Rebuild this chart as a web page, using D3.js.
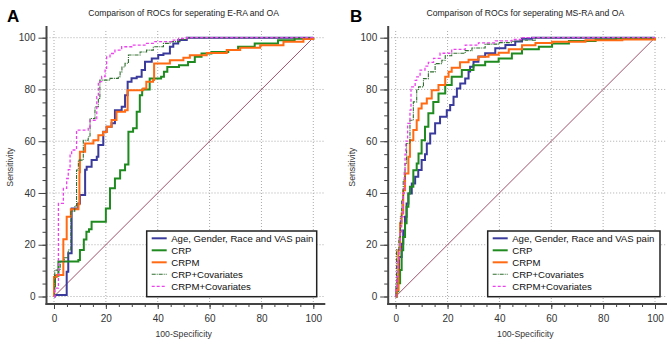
<!DOCTYPE html>
<html>
<head>
<meta charset="utf-8">
<script src="https://cdn.jsdelivr.net/npm/d3@7"></script>
<style>
  body { margin: 0; background: #fff; }
  svg { display: block; font-family: "Liberation Sans", Arial, sans-serif; }
  .tick text { fill: #333; }
</style>
</head>
<body>
<div id="chart"></div>
<script>
// tick values
var majorTicks = [0, 20, 40, 60, 80, 100],
  minorTicks = d3.range(0, 101, 5);

var seriesNames = ["Age, Gender, Race and VAS pain", "CRP", "CRPM", "CRP+Covariates", "CRPM+Covariates"];
var seriesColors = ["#3a3a9c", "#1f8a1f", "#ff6a13", "#2f6e2f", "#ee40ee"];

// panel A: E-RA vs OA  [100-specificity, sensitivity]
var eraAge = [[0, 0], [0.4, 0.6], [4.9, 9.6], [5.5, 16.7], [6.8, 34], [9.3, 35.9], [10, 39.2], [12, 49], [12.6, 50.1],
  [14.5, 52.7], [16.5, 54], [17.1, 58.5], [19, 63.7], [20.3, 65.6], [22.2, 66.9], [23.5, 72], [26.1, 73.3], [27.4, 77.8],
  [28.4, 83], [29.9, 84.3], [31.9, 84.9], [33.8, 87.5], [35.1, 90.7], [37.7, 92], [40.2, 93.3], [42.2, 93.9],
  [44.7, 96.5], [46, 97.8], [47.9, 99.1], [51.2, 100], [100, 100]];
var eraCrp = [[0, 0], [0, 4], [0.4, 8], [1.7, 13.5], [9.4, 14.1], [10, 18], [11.5, 22], [12.5, 25], [13.5, 26],
  [14.5, 28.9], [20, 29.3], [20, 34], [21.6, 41.8], [23.5, 45.6], [25.5, 48.8], [27.4, 51], [28.7, 63.7], [30.5, 65],
  [31.9, 71.4], [33.1, 77.8], [34, 80], [36.9, 84.2], [41.3, 84.9], [42.4, 86.8], [43.7, 88.7], [48.2, 89.4],
  [51.7, 90.6], [54.3, 92.6], [56.9, 93.9], [60.7, 94.5], [67.2, 95.2], [71, 96.5], [77.4, 97.8], [86.4, 99],
  [92.8, 99.6], [100, 100]];
var eraCrpm = [[0, 0], [0, 7.5], [1, 8.3], [3.6, 22.1], [4.9, 30.8], [6.5, 33.7], [9.4, 35.6], [9.8, 48], [10, 55.9],
  [12, 59.1], [15.2, 60.4], [17.1, 62.3], [19, 63.6], [20.3, 65.6], [22.2, 68.2], [24.1, 71.4], [27.4, 72],
  [28.4, 79.7], [34.4, 80.4], [35.6, 83], [38.2, 83.7], [38.6, 90], [44.7, 91.3], [49.9, 92.3], [52.4, 93.2],
  [58.9, 94.1], [66.6, 95.2], [71.8, 96.1], [79.5, 97.1], [88.5, 98.4], [96.2, 99.5], [100, 100]];
var eraCrpCov = [[0, 0], [0.3, 10.2], [2.4, 13.4], [4, 15], [5.5, 18], [6.5, 33], [8, 35], [8.7, 48.9], [9.4, 52.7],
  [11.3, 60.4], [13.2, 61.7], [13.9, 68.8], [15.8, 73.3], [17.1, 76.5], [17.7, 83.6], [21.6, 84.3], [24.8, 84.9],
  [25.5, 86.8], [26.2, 88.7], [27.4, 90.1], [28.7, 93.3], [33.2, 94.5], [35.7, 95.2], [38.3, 96.5], [42.2, 97.8],
  [44.7, 98.5], [48.6, 99.3], [51.2, 100], [100, 100]];
var eraCrpmCov = [[0, 0], [0.4, 3.2], [1.7, 36], [3.6, 41.8], [4.9, 45.6], [5.5, 49], [6.2, 54.6], [6.8, 56.6],
  [8.7, 64.3], [13.2, 65.6], [13.9, 68.1], [16.5, 77.2], [17.1, 83], [18.4, 85], [19.7, 88.2], [20.3, 92.6],
  [21.6, 93.9], [23.5, 95.2], [26.1, 96.5], [30, 97.1], [35.1, 97.8], [38.9, 98.5], [45.4, 99.1], [48, 99.7],
  [51.2, 100], [100, 100]];

// panel B: MS-RA vs OA
var msraAge = [[0, 0], [0.4, 3], [0.8, 7.6], [1.3, 15.3], [2.3, 20.4], [2.9, 25.5], [3.6, 30.8], [4.2, 35.9],
  [4.9, 39.8], [6.2, 43.7], [7.5, 46.3], [8.7, 48.9], [10, 52.7], [11.3, 55], [12, 59.1], [13.3, 63], [15.2, 66.9],
  [17.1, 69.5], [19.7, 72], [21, 74], [22.3, 77.2], [23.6, 80.4], [24.9, 82.3], [26.8, 84.2], [28.1, 86.9],
  [28.7, 88.8], [30, 90.7], [31.9, 92.7], [34.5, 94], [38.4, 95.9], [42.3, 97.2], [46.1, 98.5], [48.7, 99.6],
  [52.6, 100], [100, 100]];
var msraCrp = [[0, 0], [0.4, 2], [1, 5.1], [1.7, 10.2], [2.3, 17.9], [2.9, 23], [3.6, 28.3], [4.2, 34.7], [4.9, 39.8],
  [5.5, 42.4], [6.8, 48.8], [8.1, 51.4], [8.8, 55.3], [10, 60.4], [11.3, 65.6], [12.6, 70.8], [14.5, 75.2],
  [16.5, 78.4], [19.1, 81.7], [21.6, 84.9], [25.5, 87.5], [30, 89.4], [34.5, 90.7], [39.7, 92], [44.8, 93.9],
  [48.7, 95.5], [55.2, 96.5], [60.3, 97.8], [66.8, 98.7], [77.1, 99.3], [85, 99.7], [100, 100]];
var msraCrpm = [[0, 0], [0.4, 2.5], [1, 7.6], [1, 17.9], [1.7, 28.3], [2.3, 32.1], [2.9, 41.1], [3.6, 47.5],
  [4.9, 54], [5.5, 60.4], [6.8, 64.3], [8.1, 68.1], [8.8, 72.6], [10, 74.6], [12, 76.5], [13.9, 79.7], [16.5, 81.7],
  [19.1, 84.9], [20.4, 86.8], [21.6, 88.4], [24.8, 90.5], [28.1, 91.5], [31.9, 92.6], [35.8, 93.4], [39.7, 94.2],
  [43.6, 95.5], [48.7, 97.1], [53.9, 98], [60.3, 98.4], [73.2, 99], [87.4, 99.3], [100, 100]];
var msraCrpCov = [[0, 0], [0.1, 5], [0.3, 18], [1.2, 23], [1.8, 30.8], [2.3, 37.4], [2.9, 45], [3.6, 51.4],
  [4.2, 59.1], [5.5, 68.1], [6.8, 75.2], [8.1, 80], [8.8, 81], [10.7, 84.2], [12.6, 86.8], [15.2, 90], [17.8, 91.3],
  [19.1, 93], [21.6, 94], [26.8, 95], [29.4, 96], [34.5, 97.5], [39.7, 98.1], [44.8, 98.6], [48, 99], [53.9, 100],
  [100, 100]];
var msraCrpmCov = [[0, 0], [0.1, 3], [0.4, 7.6], [0.8, 14.1], [1.3, 17.9], [1.7, 24.4], [2.3, 30.8], [2.9, 39.8],
  [3.3, 48], [3.6, 55], [3.9, 60], [4.6, 66.9], [5.5, 72], [5.9, 81], [7.5, 83.5], [8.1, 84.9], [9.4, 87.5],
  [11.3, 89], [12.6, 90.5], [14.6, 92], [17.1, 94], [21.6, 95.5], [26.8, 97.1], [31.9, 98], [38.4, 98.8],
  [44.8, 99.3], [48.7, 100], [100, 100]];

var svg = d3.select("#chart").append("svg")
  .attr("width", 669)
  .attr("height", 341);

var dashes = [null, null, null, "4,1,1,1", "3,2"],
  widths = [2, 2, 2, 1.1, 1.3];

function drawPanel(p) {
  var x = d3.scaleLinear().domain([0, 100]).range([p.left, p.left + 259.3]),
    y = d3.scaleLinear().domain([0, 100]).range([296.5, 37.7]),
    axisX = p.left - 7.5,
    axisY = 304,
    rightEnd = x(100) + 12,
    g = svg.append("g");

  // grid
  g.selectAll(".hgrid").data(majorTicks).enter().append("line")
    .attr("x1", axisX).attr("x2", rightEnd)
    .attr("y1", d => y(d)).attr("y2", d => y(d))
    .attr("stroke", "#aaa").attr("stroke-dasharray", "1,2");
  g.selectAll(".vgrid").data(majorTicks).enter().append("line")
    .attr("x1", d => x(d)).attr("x2", d => x(d))
    .attr("y1", 31).attr("y2", axisY)
    .attr("stroke", "#aaa").attr("stroke-dasharray", "1,2");

  // axes
  var yMinor = g.append("g").attr("transform", "translate(" + axisX + ",0)")
    .call(d3.axisLeft(y).tickValues(minorTicks).tickSize(4).tickFormat(""));
  var yMajor = g.append("g").attr("transform", "translate(" + axisX + ",0)")
    .call(d3.axisLeft(y).tickValues(majorTicks).tickSize(8).tickPadding(3));
  var xMinor = g.append("g").attr("transform", "translate(0," + axisY + ")")
    .call(d3.axisBottom(x).tickValues(minorTicks).tickSize(3).tickFormat(""));
  var xMajor = g.append("g").attr("transform", "translate(0," + axisY + ")")
    .call(d3.axisBottom(x).tickValues(majorTicks).tickSize(5).tickPadding(6));
  [yMinor, yMajor, xMinor, xMajor].forEach(function(a) {
    a.select(".domain").remove();
    a.selectAll("line").attr("stroke", "#444");
    a.selectAll("text").style("font-size", "10px").style("font-family", "Liberation Sans, Arial, sans-serif");
  });
  g.append("line").attr("x1", axisX).attr("x2", axisX).attr("y1", 26).attr("y2", axisY + 1)
    .attr("stroke", "#444").attr("stroke-width", 2);
  g.append("line").attr("x1", axisX - 1).attr("x2", rightEnd).attr("y1", axisY).attr("y2", axisY)
    .attr("stroke", "#444").attr("stroke-width", 2);

  // reference diagonal
  g.append("line")
    .attr("x1", x(0)).attr("y1", y(0)).attr("x2", x(100)).attr("y2", y(100))
    .attr("stroke", "#a0506a").attr("stroke-width", 1);

  var line = d3.line()
    .curve(d3.curveStepAfter)
    .x(d => x(d[0]))
    .y(d => y(d[1]));

  g.selectAll(".roc").data(p.series).enter().append("path")
    .attr("class", "roc")
    .attr("fill", "none")
    .attr("stroke", (d, i) => seriesColors[i])
    .attr("stroke-width", (d, i) => widths[i])
    .attr("stroke-dasharray", (d, i) => dashes[i])
    .attr("d", d => line(d));

  // labels
  g.append("text").attr("x", (x(0) + x(100)) / 2).attr("y", 16.3)
    .attr("text-anchor", "middle").style("font-size", "8.6px").attr("fill", "#222")
    .text(p.title);
  g.append("text").attr("x", p.letterX).attr("y", 22)
    .style("font-size", "17px").style("font-weight", "bold").attr("fill", "#000")
    .text(p.letter);
  g.append("text").attr("x", (x(0) + x(100)) / 2).attr("y", 337)
    .attr("text-anchor", "middle").style("font-size", "8.7px").attr("fill", "#333")
    .text("100-Specificity");
  g.append("text")
    .attr("transform", "translate(" + (p.left - 41) + "," + y(50) + ") rotate(-90)")
    .attr("text-anchor", "middle").style("font-size", "8.7px").attr("fill", "#333")
    .text("Sensitivity");

  // legend
  var lg = g.append("g").attr("transform", "translate(" + p.legendX + ",231)");
  lg.append("rect").attr("width", p.legendW).attr("height", 65.7)
    .attr("fill", "#fff").attr("stroke", "#222").attr("stroke-width", 1.5);
  var keys = lg.selectAll(".key").data(seriesNames).enter().append("g")
    .attr("transform", (d, i) => "translate(0," + (7.3 + i * 12) + ")");
  keys.append("line").attr("x1", 5).attr("x2", 20)
    .attr("stroke", (d, i) => seriesColors[i])
    .attr("stroke-width", (d, i) => widths[i])
    .attr("stroke-dasharray", (d, i) => dashes[i]);
  keys.append("text").attr("x", 24.5).attr("y", 3.6)
    .style("font-size", "9.6px").attr("fill", "#111")
    .text(d => d);
}

drawPanel({
  left: 54, letter: "A", letterX: 7, legendX: 146.7, legendW: 170,
  title: "Comparison of ROCs for seperating E-RA and OA",
  series: [eraAge, eraCrp, eraCrpm, eraCrpCov, eraCrpmCov]
});
drawPanel({
  left: 395.7, letter: "B", letterX: 350, legendX: 487.7, legendW: 172.3,
  title: "Comparison of ROCs for seperating MS-RA and OA",
  series: [msraAge, msraCrp, msraCrpm, msraCrpCov, msraCrpmCov]
});
</script>
</body>
</html>
